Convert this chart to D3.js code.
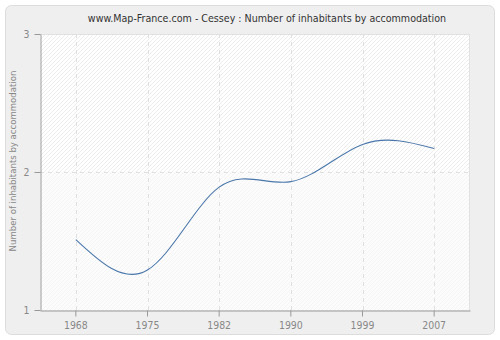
<!DOCTYPE html>
<html>
<head>
<meta charset="utf-8">
<script src="https://cdn.jsdelivr.net/npm/d3@7/dist/d3.min.js"></script>
<style>
  html, body { margin: 0; padding: 0; background: #ffffff; }
  svg { display: block; }
  text { font-family: "DejaVu Sans Condensed", "DejaVu Sans", Verdana, sans-serif; }
</style>
</head>
<body>
<svg id="chart" width="500" height="340"></svg>
<script>
// Census years and the average number of inhabitants per accommodation
const years = ["1968", "1975", "1982", "1990", "1999", "2007"];
const inhabitants = [1.51, 1.29, 1.89, 1.93, 2.20, 2.17];
const yTicks = [1, 2, 3];
const titleText = "www.Map-France.com - Cessey : Number of inhabitants by accommodation";
const yLabel = "Number of inhabitants by accommodation";

const W = 500, H = 340;
const margin = { left: 40, right: 30, top: 34, bottom: 30 };
const plotW = W - margin.left - margin.right;
const plotH = H - margin.top - margin.bottom;
const FONT = "'DejaVu Sans Condensed', 'DejaVu Sans', Verdana, sans-serif";

const svg = d3.select("#chart");

// Diagonal hatch fills for the plot background
const defs = svg.append("defs");
function hatch(id, bg, stroke) {
  const p = defs.append("pattern")
    .attr("id", id)
    .attr("patternUnits", "userSpaceOnUse")
    .attr("width", 4).attr("height", 4);
  p.append("rect").attr("width", 4).attr("height", 4).attr("fill", bg);
  p.append("path")
    .attr("d", "M-1,1 l2,-2 M0,4 l4,-4 M3,5 l2,-2")
    .attr("stroke", stroke).attr("stroke-width", 0.8);
}
hatch("hatchTop", "#ffffff", "#e9e9e9");
hatch("hatchBottom", "#fcfcfc", "#f2f2f2");

// Outer panel
svg.append("rect").attr("width", W).attr("height", H).attr("fill", "#ffffff");
svg.append("rect")
  .attr("x", 5.5).attr("y", 5.5).attr("width", 489).attr("height", 329)
  .attr("rx", 6).attr("ry", 6)
  .attr("fill", "#efefef").attr("stroke", "#dcdcdc");

const x = d3.scaleBand().domain(years).range([margin.left, margin.left + plotW]);
const y = d3.scaleLinear().domain([1, 3]).range([margin.top + plotH, margin.top]);

// Plot background: two bands split at the middle gridline
const g = svg.append("g");
g.append("rect")
  .attr("x", margin.left).attr("y", y(3))
  .attr("width", plotW).attr("height", y(2) - y(3))
  .attr("fill", "url(#hatchTop)");
g.append("rect")
  .attr("x", margin.left).attr("y", y(2))
  .attr("width", plotW).attr("height", y(1) - y(2))
  .attr("fill", "url(#hatchBottom)");
// light frame on top and right
g.append("path")
  .attr("d", `M${margin.left},${y(3) + 0.5}H${margin.left + plotW - 0.5}V${y(1)}`)
  .attr("fill", "none").attr("stroke", "#e2e2e2");

// Dashed grid
const cx = d => x(d) + x.bandwidth() / 2;
g.selectAll(".vgrid").data(years).enter().append("line")
  .attr("x1", d => Math.round(cx(d)) + 0.5).attr("x2", d => Math.round(cx(d)) + 0.5)
  .attr("y1", y(3)).attr("y2", y(1))
  .attr("stroke", "#e0e0e0").attr("stroke-dasharray", "4,4");
g.selectAll(".hgrid").data(yTicks.filter(t => t > 1)).enter().append("line")
  .attr("x1", margin.left).attr("x2", margin.left + plotW)
  .attr("y1", d => Math.round(y(d)) + 0.5).attr("y2", d => Math.round(y(d)) + 0.5)
  .attr("stroke", "#e0e0e0").attr("stroke-dasharray", "4,4");

// Axes
const xAxis = d3.axisBottom(x).tickSize(6).tickSizeOuter(0).tickPadding(5);
const yAxis = d3.axisLeft(y).tickValues(yTicks).tickFormat(d3.format("d")).tickSize(6).tickSizeOuter(0).tickPadding(5);

const gx = svg.append("g").attr("transform", `translate(0,${margin.top + plotH + 0.5})`).call(xAxis);
const gy = svg.append("g").attr("transform", `translate(${margin.left + 0.5},0)`).call(yAxis);
[gx, gy].forEach(a => {
  a.select(".domain").attr("stroke", "#999999");
  a.selectAll(".tick line").attr("stroke", "#999999");
  a.selectAll(".tick text").attr("fill", "#888888").style("font-size", "10.4px")
    .style("font-family", FONT);
});

// Series line (natural cubic spline through the census points)
const line = d3.line()
  .x((d, i) => cx(years[i]))
  .y(d => y(d))
  .curve(d3.curveNatural);
svg.append("path")
  .datum(inhabitants)
  .attr("d", line)
  .attr("fill", "none")
  .attr("stroke", "#4a77ab")
  .attr("stroke-width", 1.1);

// Title and y label
svg.append("text")
  .attr("x", 267).attr("y", 22)
  .attr("text-anchor", "middle")
  .attr("fill", "#333333").style("font-size", "10.6px")
  .text(titleText);
svg.append("text")
  .attr("transform", `translate(16,${161}) rotate(-90)`)
  .attr("text-anchor", "middle")
  .attr("fill", "#888888").style("font-size", "9.5px")
  .text(yLabel);
</script>
</body>
</html>
